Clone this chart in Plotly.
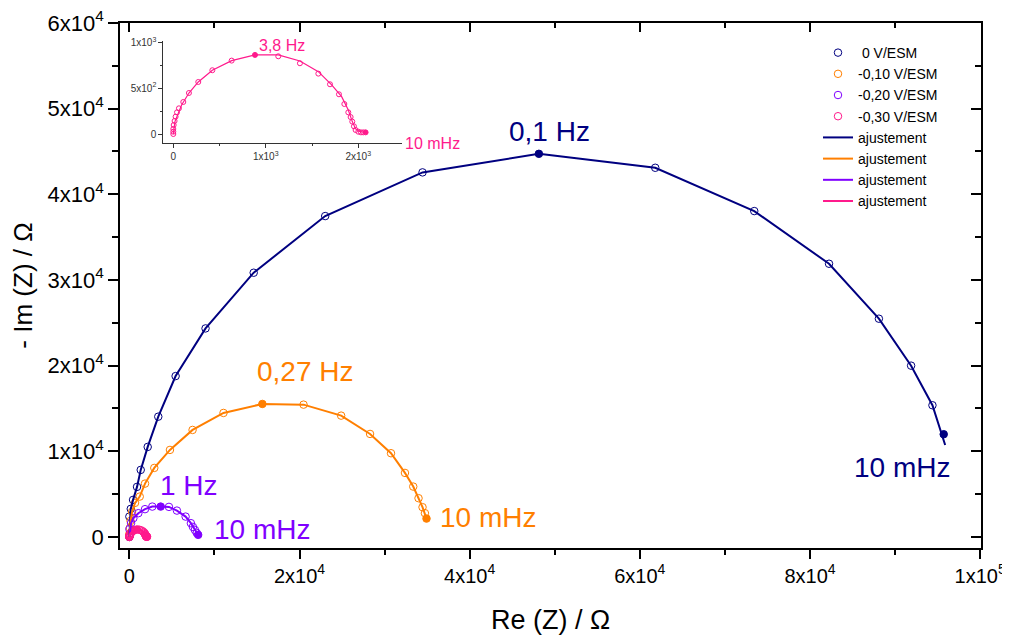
import plotly.graph_objects as go

# ---------------- data (Re(Z), -Im(Z) in ohm) ----------------
v0_re = [0, 0, 164, 434, 902, 1336, 2156, 3399, 5438, 8954, 14615, 23018, 34457,
         48134, 61811, 73448, 82238, 88098, 91884, 94392, 95716]
v0_im = [0, 2370, 3267, 4318, 5835, 7818, 10502, 14035, 18773, 24340, 30842, 37457, 42557,
         44728, 43095, 38041, 31891, 25473, 19989, 15367, 11983]
v0_filled = [13, 20]
v0_fit_re = [0, 164, 434, 902, 1336, 2156, 3399, 5438, 8954, 14615, 23018, 34457,
             48134, 61811, 73448, 82238, 88098, 91884, 94392, 95889]
v0_fit_im = [0, 3267, 4318, 5835, 7818, 10502, 14035, 18773, 24340, 30842, 37457, 42557,
             44728, 43095, 38041, 31891, 25473, 19989, 15367, 10727]

v10_re = [0, 0, 59, 141, 316, 668, 1219, 1840, 2930, 4770, 7430, 11064, 15634, 20475,
          24893, 28292, 30753, 32394, 33367, 33988, 34457, 34738, 34926]
v10_im = [0, 350, 1050, 1867, 2917, 3967, 4703, 6220, 8052, 10152, 12486, 14470, 15520, 15440,
          14155, 12019, 9767, 7468, 5870, 4516, 3466, 2766, 2135]
v10_filled = [12, 22]
v10_fit_re = [0, 141, 316, 668, 1219, 1840, 2930, 4770, 7430, 11064, 15634, 20475,
              24893, 28292, 30753, 32394, 33367, 33988, 34457, 34926]
v10_fit_im = [0, 1867, 2917, 3967, 4703, 6220, 8052, 10152, 12486, 14470, 15520, 15440,
              14155, 12019, 9767, 7468, 5870, 4516, 3466, 2135]

v20_re = [0, 0, 200, 469, 1055, 1840, 2696, 3680, 4653, 5590, 6610, 7231, 7466, 7700, 7911, 8087]
v20_im = [0, 900, 1599, 2182, 2766, 3234, 3536, 3536, 3500, 3069, 2369, 1599, 1167, 817, 467, 233]
v20_filled = [7, 15]
v20_fit_re = [0, 200, 469, 1055, 1840, 2696, 3680, 4653, 5590, 6610, 7231, 7700, 8087]
v20_fit_im = [0, 1599, 2182, 2766, 3234, 3536, 3536, 3500, 3069, 2369, 1599, 817, 233]

v30_re = [0, 0, 0, 4, 14, 25, 40, 61, 108, 169, 270, 422, 631, 883, 1135, 1369, 1568,
          1694, 1791, 1849, 1892, 1917, 1935, 1953, 1971, 2000, 2029, 2054, 2079]
v30_im = [0, 25, 55, 98, 142, 189, 236, 280, 349, 447, 567, 695, 800, 862, 847, 771, 658,
          542, 433, 327, 236, 185, 135, 84, 44, 25, 18, 18, 18]
v30_filled = [13, 28]
v30_fit_re = [0, 18, 90, 169, 270, 422, 631, 883, 1135, 1369, 1568, 1712, 1820, 1892,
              1935, 1971, 2018, 2079]
v30_fit_im = [0, 135, 316, 447, 567, 695, 800, 862, 862, 796, 680, 535, 407, 262,
              135, 55, 25, 18]

names = ["\u00a00 V/ESM", "-0,10 V/ESM", "-0,20 V/ESM", "-0,30 V/ESM"]
fit_name = "ajustement"

main_xticks = [0, 20000, 40000, 60000, 80000, 100000]
main_xtext = ["0", "2x10<sup>4</sup>", "4x10<sup>4</sup>", "6x10<sup>4</sup>",
              "8x10<sup>4</sup>", "1x10<sup>5</sup>"]
main_yticks = [0, 10000, 20000, 30000, 40000, 50000, 60000]
main_ytext = ["0", "1x10<sup>4</sup>", "2x10<sup>4</sup>", "3x10<sup>4</sup>",
              "4x10<sup>4</sup>", "5x10<sup>4</sup>", "6x10<sup>4</sup>"]
inset_xticks = [0, 1000, 2000]
inset_xtext = ["0", "1x10<sup>3</sup>", "2x10<sup>3</sup>"]
inset_yticks = [0, 500, 1000]
inset_ytext = ["0", "5x10<sup>2</sup>", "1x10<sup>3</sup>"]

NAVY = "#000080"
ORANGE = "#FF7F00"
PURPLE = "#8000FF"
PINK = "#FF1A8C"

series = [
    (v0_re, v0_im, v0_filled, v0_fit_re, v0_fit_im, NAVY),
    (v10_re, v10_im, v10_filled, v10_fit_re, v10_fit_im, ORANGE),
    (v20_re, v20_im, v20_filled, v20_fit_re, v20_fit_im, PURPLE),
    (v30_re, v30_im, v30_filled, v30_fit_re, v30_fit_im, PINK),
]

def symbols(n, filled):
    return ["circle" if i in filled else "circle-open" for i in range(n)]

fig = go.Figure()
for (re, im, filled, fre, fim, col), nm in zip(series, names):
    fig.add_trace(go.Scatter(
        x=re, y=im, mode="markers", name=nm,
        marker=dict(symbol=symbols(len(re), filled), size=7.5, color=col,
                    line=dict(color=col, width=1)),
        hoverinfo="skip"))
for (re, im, filled, fre, fim, col) in series:
    fig.add_trace(go.Scatter(
        x=fre, y=fim, mode="lines", name=fit_name,
        line=dict(color=col, width=2), hoverinfo="skip"))

# inset (pink series zoomed)
fig.add_trace(go.Scatter(
    x=v30_re, y=v30_im, mode="markers", showlegend=False, xaxis="x3", yaxis="y3",
    marker=dict(symbol=symbols(len(v30_re), v30_filled), size=5, color=PINK,
                line=dict(color=PINK, width=1)), hoverinfo="skip"))
fig.add_trace(go.Scatter(
    x=v30_fit_re, y=v30_fit_im, mode="lines", showlegend=False, xaxis="x3", yaxis="y3",
    line=dict(color=PINK, width=1.2), hoverinfo="skip"))

# empty trace so that the mirrored frame axes (top / right, ticks inside) are drawn
fig.add_trace(go.Scatter(x=[], y=[], xaxis="x2", yaxis="y2", showlegend=False,
                         hoverinfo="skip"))

XR = [-1100, 100100]
YR = [-1300, 60000]
yfont = dict(family="Liberation Sans, Arial", size=22, color="black")
xfont = dict(family="Liberation Sans, Arial", size=20, color="black")

fig.update_layout(
    width=1002, height=629,
    margin=dict(l=112, r=29, t=15, b=89, autoexpand=False),
    paper_bgcolor="white", plot_bgcolor="white",
    font=dict(family="Liberation Sans, Arial", color="black"),
    xaxis=dict(range=XR, automargin=False, showgrid=False, zeroline=False, showline=True,
               linecolor="black", linewidth=1.5, ticks="outside", ticklen=9, tickwidth=1.5,
               tickcolor="black", ticklabeloverflow="allow",
               tickmode="array", tickvals=main_xticks, ticktext=main_xtext,
               tickfont=xfont,
               minor=dict(tickmode="array", tickvals=[10000, 30000, 50000, 70000, 90000],
                          ticks="outside", ticklen=5, tickwidth=1.5, tickcolor="black"),
               title=dict(text="Re (Z) / Ω", font=dict(size=27), standoff=24)),
    yaxis=dict(range=YR, automargin=False, showgrid=False, zeroline=False, showline=True,
               linecolor="black", linewidth=1.5, ticks="outside", ticklen=10, tickwidth=1.5,
               tickcolor="black", ticklabeloverflow="allow",
               tickmode="array", tickvals=main_yticks, ticktext=main_ytext,
               tickfont=yfont,
               minor=dict(tickmode="array", tickvals=[5000, 15000, 25000, 35000, 45000, 55000],
                          ticks="outside", ticklen=6, tickwidth=1.5, tickcolor="black"),
               title=dict(text="- Im (Z) / Ω", font=dict(size=26), standoff=8)),
    xaxis2=dict(range=XR, automargin=False, overlaying="x", anchor="y2", side="top",
                showgrid=False, zeroline=False, showline=True, linecolor="black", linewidth=1.5,
                ticks="inside", ticklen=9, tickwidth=1.5, tickcolor="black",
                tickmode="array", tickvals=main_xticks, showticklabels=False,
                minor=dict(tickmode="array", tickvals=[10000, 30000, 50000, 70000, 90000],
                           ticks="inside", ticklen=5, tickwidth=1.5, tickcolor="black")),
    yaxis2=dict(range=YR, automargin=False, overlaying="y", anchor="x2", side="right",
                showgrid=False, zeroline=False, showline=True, linecolor="black", linewidth=1.5,
                ticks="inside", ticklen=10, tickwidth=1.5, tickcolor="black",
                tickmode="array", tickvals=main_yticks, showticklabels=False,
                minor=dict(tickmode="array", tickvals=[5000, 15000, 25000, 35000, 45000, 55000],
                           ticks="inside", ticklen=6, tickwidth=1.5, tickcolor="black")),
    xaxis3=dict(domain=[0.0503, 0.3279], anchor="y3", range=[-108, 2476], automargin=False,
                showgrid=False, zeroline=False, showline=True, linecolor="#333", linewidth=1,
                ticks="outside", ticklen=4, tickwidth=1, tickcolor="#333",
                tickmode="array", tickvals=inset_xticks, ticktext=inset_xtext,
                tickfont=dict(size=10, color="#333"),
                minor=dict(tickmode="array", tickvals=[500, 1500], ticks="outside",
                           ticklen=2, tickwidth=1, tickcolor="#333")),
    yaxis3=dict(domain=[0.7709, 0.9663], anchor="x3", range=[-101, 1017], automargin=False,
                showgrid=False, zeroline=False, showline=True, linecolor="#333", linewidth=1,
                ticks="outside", ticklen=4, tickwidth=1, tickcolor="#333",
                tickmode="array", tickvals=inset_yticks, ticktext=inset_ytext,
                tickfont=dict(size=10, color="#333"),
                minor=dict(tickmode="array", tickvals=[250, 750], ticks="outside",
                           ticklen=2, tickwidth=1, tickcolor="#333")),
    legend=dict(x=0.8107, y=0.9733, xanchor="left", yanchor="top",
                bgcolor="rgba(0,0,0,0)", font=dict(size=14, color="black"),
                tracegroupgap=0),
    showlegend=True,
)

label_font = "Liberation Sans, Arial"
annots = [
    ("0,1 Hz", 49391, 47390, NAVY, 28, "x", "y", "center"),
    ("10 mHz", 90840, 8042, NAVY, 28, "x", "y", "center"),
    ("0,27 Hz", 20682, 19285, ORANGE, 28, "x", "y", "center"),
    ("10 mHz", 42110, 2204, ORANGE, 28, "x", "y", "center"),
    ("1 Hz", 7002, 5940, PURPLE, 28, "x", "y", "center"),
    ("10 mHz", 15632, 919, PURPLE, 28, "x", "y", "center"),
    ("3,8 Hz", 1175, 960, PINK, 16, "x3", "y3", "center"),
]
for txt, ax, ay, col, sz, xr, yr, xa in annots:
    fig.add_annotation(text=txt, x=ax, y=ay, xref=xr, yref=yr, showarrow=False,
                       xanchor=xa, yanchor="middle",
                       font=dict(family=label_font, size=sz, color=col))
# inset low-frequency label sits just past the end of the inset x axis
fig.add_annotation(text="10 mHz", x=1.0, y=0.0, xref="x3 domain", yref="y3 domain",
                   showarrow=False, xanchor="left", yanchor="middle", xshift=1,
                   font=dict(family=label_font, size=16, color=PINK))

fig.write_html("out.html")
